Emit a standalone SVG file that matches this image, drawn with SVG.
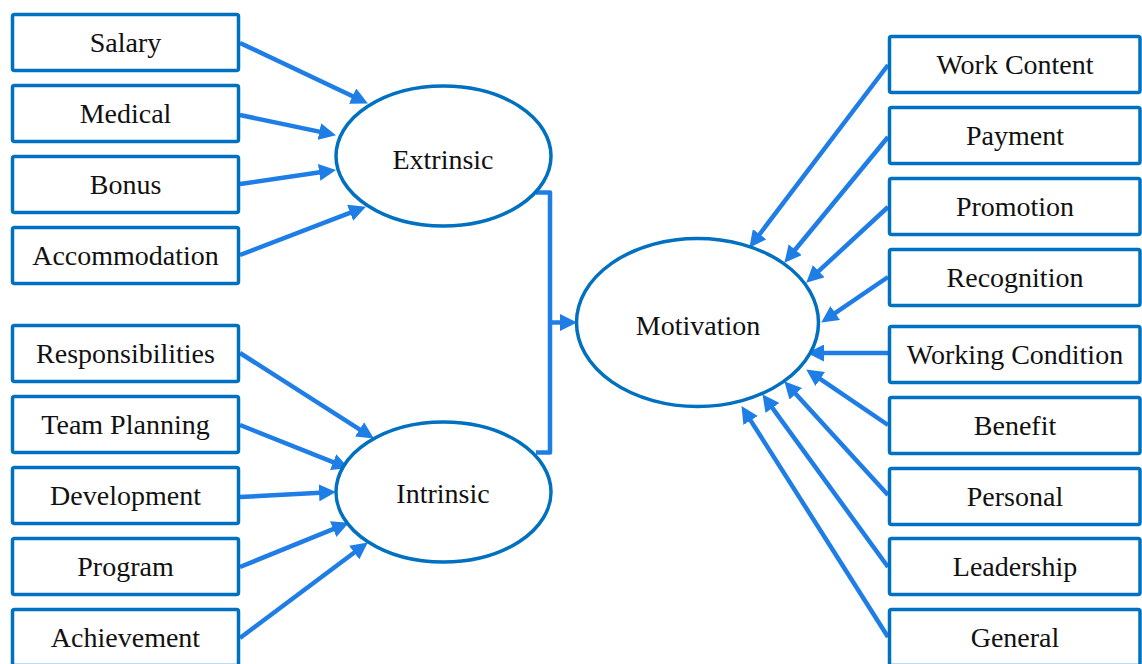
<svg xmlns="http://www.w3.org/2000/svg" width="1142" height="664" viewBox="0 0 1142 664">
<style>
.box{fill:#fff;stroke:#0070C0;stroke-width:3.5}
.ell{fill:#fff;stroke:#0070C0;stroke-width:3.5}
.t{font-family:"Liberation Serif","Times New Roman",serif;font-size:28px;fill:#111;text-anchor:middle}
.c{fill:none;stroke:#1F7DE6;stroke-width:4.5}
</style>
<defs>
<marker id="ah" markerUnits="userSpaceOnUse" markerWidth="17" markerHeight="17" refX="6" refY="8.5" orient="auto">
<path d="M0,0 L17,8.5 L0,17 z" fill="#1F7DE6"/>
</marker>
</defs>
<rect width="1142" height="664" fill="#fff"/>
<g id="connectors">
<line class="c" x1="240" y1="43" x2="358" y2="98.7" marker-end="url(#ah)"/>
<line class="c" x1="240" y1="115" x2="325.2" y2="132.9" marker-end="url(#ah)"/>
<line class="c" x1="240" y1="184" x2="325.1" y2="171.5" marker-end="url(#ah)"/>
<line class="c" x1="240" y1="255" x2="355.7" y2="210.6" marker-end="url(#ah)"/>
<line class="c" x1="240" y1="353" x2="364.6" y2="432.6" marker-end="url(#ah)"/>
<line class="c" x1="240" y1="425" x2="338.7" y2="464.3" marker-end="url(#ah)"/>
<line class="c" x1="240" y1="497" x2="325" y2="492.5" marker-end="url(#ah)"/>
<line class="c" x1="240" y1="567" x2="338.7" y2="526.8" marker-end="url(#ah)"/>
<line class="c" x1="240" y1="638" x2="359" y2="549" marker-end="url(#ah)"/>
<path class="c" d="M536,192.5 H550 V452.5 H536" stroke-linejoin="round"/>
<line class="c" x1="550" y1="322.5" x2="566" y2="322.5" marker-end="url(#ah)"/>
<line class="c" x1="888" y1="65" x2="756" y2="239" marker-end="url(#ah)"/>
<line class="c" x1="888" y1="137" x2="791.4" y2="254.3" marker-end="url(#ah)"/>
<line class="c" x1="888" y1="207" x2="814.3" y2="275.2" marker-end="url(#ah)"/>
<line class="c" x1="888" y1="277" x2="830.3" y2="316.4" marker-end="url(#ah)"/>
<line class="c" x1="888" y1="353" x2="818" y2="353" marker-end="url(#ah)"/>
<line class="c" x1="888" y1="425" x2="815.3" y2="375.6" marker-end="url(#ah)"/>
<line class="c" x1="888" y1="495" x2="791.7" y2="389.4" marker-end="url(#ah)"/>
<line class="c" x1="888" y1="567" x2="768.9" y2="403.1" marker-end="url(#ah)"/>
<line class="c" x1="888" y1="637" x2="747.4" y2="415.4" marker-end="url(#ah)"/>
</g>
<g id="salary"><rect class="box" x="12.5" y="14.5" width="226" height="56" rx="2"/><text class="t" x="125.5" y="52">Salary</text></g>
<g id="medical"><rect class="box" x="12.5" y="85.5" width="226" height="56" rx="2"/><text class="t" x="125.5" y="123">Medical</text></g>
<g id="bonus"><rect class="box" x="12.5" y="156.5" width="226" height="56" rx="2"/><text class="t" x="125.5" y="194">Bonus</text></g>
<g id="accommodation"><rect class="box" x="12.5" y="227.5" width="226" height="56" rx="2"/><text class="t" x="125.5" y="265">Accommodation</text></g>
<g id="responsibilities"><rect class="box" x="12.5" y="325.5" width="226" height="56" rx="2"/><text class="t" x="125.5" y="363">Responsibilities</text></g>
<g id="team-planning"><rect class="box" x="12.5" y="396.5" width="226" height="56" rx="2"/><text class="t" x="125.5" y="434">Team Planning</text></g>
<g id="development"><rect class="box" x="12.5" y="467.5" width="226" height="56" rx="2"/><text class="t" x="125.5" y="505">Development</text></g>
<g id="program"><rect class="box" x="12.5" y="538.5" width="226" height="56" rx="2"/><text class="t" x="125.5" y="576">Program</text></g>
<g id="achievement"><rect class="box" x="12.5" y="609.5" width="226" height="56" rx="2"/><text class="t" x="125.5" y="647">Achievement</text></g>
<g id="extrinsic"><ellipse class="ell" cx="443.5" cy="156" rx="107.5" ry="70"/><text class="t" x="443" y="169">Extrinsic</text></g>
<g id="intrinsic"><ellipse class="ell" cx="443.5" cy="492" rx="107.5" ry="70"/><text class="t" x="443" y="503">Intrinsic</text></g>
<g id="motivation"><ellipse class="ell" cx="697.5" cy="322.5" rx="121" ry="84"/><text class="t" x="698" y="335">Motivation</text></g>
<g id="work-content"><rect class="box" x="889.5" y="36.5" width="250.5" height="56" rx="2"/><text class="t" x="1015" y="74">Work Content</text></g>
<g id="payment"><rect class="box" x="889.5" y="107.5" width="250.5" height="56" rx="2"/><text class="t" x="1015" y="145">Payment</text></g>
<g id="promotion"><rect class="box" x="889.5" y="178.5" width="250.5" height="56" rx="2"/><text class="t" x="1015" y="216">Promotion</text></g>
<g id="recognition"><rect class="box" x="889.5" y="249.5" width="250.5" height="56" rx="2"/><text class="t" x="1015" y="287">Recognition</text></g>
<g id="working-condition"><rect class="box" x="889.5" y="326.5" width="250.5" height="56" rx="2"/><text class="t" x="1015" y="364">Working Condition</text></g>
<g id="benefit"><rect class="box" x="889.5" y="397.5" width="250.5" height="56" rx="2"/><text class="t" x="1015" y="435">Benefit</text></g>
<g id="personal"><rect class="box" x="889.5" y="468.5" width="250.5" height="56" rx="2"/><text class="t" x="1015" y="506">Personal</text></g>
<g id="leadership"><rect class="box" x="889.5" y="538.5" width="250.5" height="56" rx="2"/><text class="t" x="1015" y="576">Leadership</text></g>
<g id="general"><rect class="box" x="889.5" y="609.5" width="250.5" height="56" rx="2"/><text class="t" x="1015" y="647">General</text></g>
</svg>
